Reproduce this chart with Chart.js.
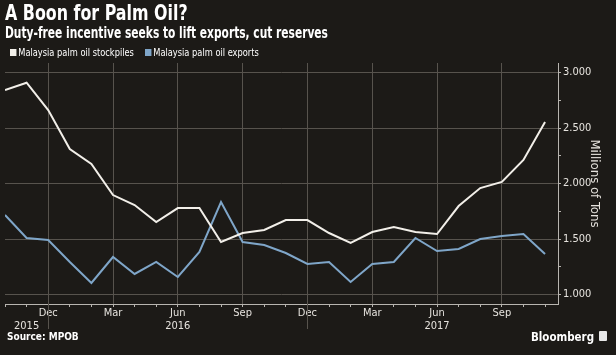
<!DOCTYPE html>
<html><head><meta charset="utf-8">
<script src="https://cdn.jsdelivr.net/npm/chart.js@4"></script>
<style>
html,body{margin:0;padding:0;background:#1c1a17;}
#wrap{position:relative;width:616px;height:355px;overflow:hidden;background:#1c1a17;font-family:"DejaVu Sans Condensed","DejaVu Sans",sans-serif;color:#fff}
canvas{position:absolute;left:0;top:0}
.t{position:absolute;white-space:nowrap;font-weight:bold;line-height:1;transform-origin:0 0}
.sq{display:inline-block;width:7px;height:7px;margin-right:2px;vertical-align:0px}
</style></head><body>
<div id="wrap">
<canvas id="c" width="616" height="355"></canvas>
<div class="t" style="left:5px;top:3px;font-size:21px;transform:scaleX(0.84)">A Boon for Palm Oil?</div>
<div class="t" style="left:5px;top:26px;font-size:15px;transform:scaleX(0.79)">Duty-free incentive seeks to lift exports, cut reserves</div>
<div class="t" style="left:10px;top:48px;font-size:10px;font-weight:normal;transform:scaleX(0.92)"><span class="sq" style="background:#f2efe9"></span>Malaysia palm oil stockpiles</div>
<div class="t" style="left:145px;top:48px;font-size:10px;font-weight:normal;transform:scaleX(0.92)"><span class="sq" style="background:#7fa6c9"></span>Malaysia palm oil exports</div>
<div class="t" style="left:7px;top:332px;font-size:10px;">Source: MPOB</div>
<div class="t" style="left:531px;top:330px;font-size:13px;transform:scaleX(0.88)">Bloomberg</div>
<div style="position:absolute;left:599px;top:331px;width:8px;height:10px;background:#e8e8e8;border-radius:1px"></div>
</div>
<script>
const months = ['Oct','Nov','Dec','Jan','Feb','Mar','Apr','May','Jun','Jul','Aug','Sep','Oct','Nov','Dec','Jan','Feb','Mar','Apr','May','Jun','Jul','Aug','Sep','Oct','Nov'];
const shownMonths = ['Dec','Mar','Jun','Sep'];
const yearLabels = {1:'2015', 8:'2016', 20:'2017'};
const yearBreaks = [2, 14];
const stockpiles = [2.842, 2.908, 2.662, 2.311, 2.176, 1.896, 1.806, 1.653, 1.779, 1.779, 1.473, 1.554, 1.581, 1.671, 1.671, 1.554, 1.464, 1.563, 1.608, 1.563, 1.545, 1.797, 1.959, 2.014, 2.212, 2.554];
const exportsData = [1.716, 1.509, 1.491, 1.293, 1.104, 1.338, 1.185, 1.293, 1.158, 1.383, 1.833, 1.473, 1.446, 1.374, 1.275, 1.293, 1.113, 1.275, 1.293, 1.509, 1.392, 1.410, 1.500, 1.527, 1.545, 1.365];
const yTickValues = [1.0, 1.25, 1.5, 1.75, 2.0, 2.25, 2.5, 2.75, 3.0];

const GRID = '#57534d';
const AXIS = '#b8b5b0';
const FONT = '"DejaVu Sans Condensed","DejaVu Sans",sans-serif';

const yearSep = {
  id: 'yearSep',
  afterDraw(chart) {
    const x = chart.scales.x, ctx = chart.ctx, b = chart.chartArea.bottom;
    ctx.save();
    ctx.strokeStyle = GRID; ctx.lineWidth = 1;
    yearBreaks.forEach(i => {
      const px = Math.round(x.getPixelForValue(i)) + 0.5;
      ctx.beginPath(); ctx.moveTo(px, b); ctx.lineTo(px, b + 25); ctx.stroke();
    });
    ctx.restore();
  }
};

new Chart(document.getElementById('c'), {
  type: 'line',
  data: {
    datasets: [
      { label: 'Malaysia palm oil stockpiles', data: stockpiles.map((v,i)=>({x:i,y:v})), borderColor: '#f2efe9', borderWidth: 2, pointRadius: 0, tension: 0 },
      { label: 'Malaysia palm oil exports', data: exportsData.map((v,i)=>({x:i,y:v})), borderColor: '#7fa6c9', borderWidth: 2, pointRadius: 0, tension: 0 }
    ]
  },
  options: {
    responsive: false, animation: false,
    layout: { padding: { left: 5, top: 63, right: 0, bottom: 0 } },
    plugins: { legend: { display: false }, tooltip: { enabled: false } },
    scales: {
      x: {
        type: 'linear', min: 0, max: 25.6,
        afterBuildTicks: s => { s.ticks = months.map((m,i)=>({value:i})); },
        afterFit: s => { s.height = 51; },
        grid: {
          color: c => (c.tick && shownMonths.includes(months[c.tick.value])) ? GRID : 'rgba(0,0,0,0)',
          tickColor: AXIS, tickLength: 3, lineWidth: 1
        },
        border: { display: true, color: AXIS },
        ticks: {
          autoSkip: false, maxRotation: 0, padding: 0,
          color: '#e6e3de', font: { family: FONT, size: 11, lineHeight: 1.15 },
          callback: (v) => {
            const m = shownMonths.includes(months[v]) ? months[v] : '';
            return [m, yearLabels[v] || ''];
          }
        }
      },
      y: {
        position: 'right', min: 0.9145, max: 3.0856,
        afterBuildTicks: s => { s.ticks = yTickValues.map(v=>({value:v})); },
        afterFit: s => { s.width = 58; },
        grid: {
          color: c => (c.tick && Math.abs(c.tick.value*2 - Math.round(c.tick.value*2)) < 1e-6) ? GRID : 'rgba(0,0,0,0)',
          tickColor: AXIS, tickLength: 3
        },
        border: { display: true, color: AXIS },
        ticks: {
          padding: 2, color: '#e6e3de', font: { family: FONT, size: 11 },
          callback: v => (Math.abs(v*2 - Math.round(v*2)) < 1e-6) ? v.toFixed(3) : ''
        },
        title: { display: true, text: 'Millions of Tons', color: '#e6e3de', font: { family: FONT, size: 13 }, padding: { top: 14, bottom: 0 } }
      }
    }
  },
  plugins: [yearSep]
});
</script>
</body></html>
